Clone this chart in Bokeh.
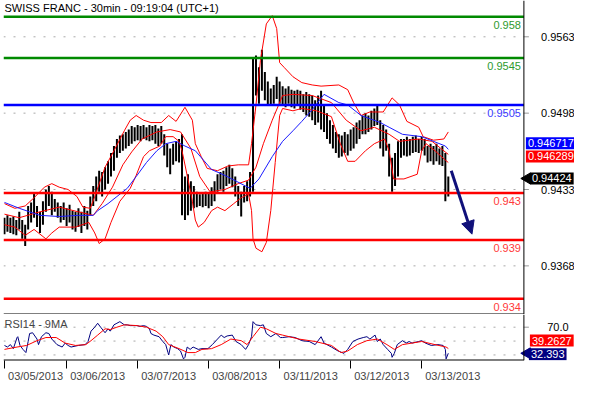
from bokeh.plotting import figure
from bokeh.layouts import column
from bokeh.models import (Range1d, FixedTicker, Span, Label, Arrow, NormalHead, ColumnDataSource)
from bokeh.embed import file_html
from bokeh.resources import INLINE
from bokeh.core.properties import value
import math

FONT = "Liberation Sans"
TITLE = "SWISS FRANC - 30min - 09:19:04 (UTC+1)"
RSI_TITLE = "RSI14 - 9MA"

# half-hour bar index (0 = first bar on 03/05), hourly bars
bar_t = list(range(0, 301, 2))
bar_hi = [0.9409,0.9411,0.9409,0.9410,0.9407,0.9414,0.9407,0.9403,0.9419,0.9422,
          0.9430,0.9419,0.9414,0.9423,0.9433,0.9436,0.9431,0.9425,0.9422,0.9419,
          0.9422,0.9417,0.9420,0.9415,0.9414,0.9417,0.9414,0.9419,0.9415,0.9427,
          0.9436,0.9444,0.9449,0.9448,0.9452,0.9457,0.9464,0.9470,0.9476,0.9479,
          0.9480,0.9482,0.9484,0.9487,0.9486,0.9488,0.9487,0.9488,0.9486,0.9488,
          0.9487,0.9488,0.9485,0.9487,0.9480,0.9472,0.9468,0.9472,0.9474,0.9476,
          0.9480,0.9444,0.9446,0.9440,0.9436,0.9431,0.9429,0.9430,0.9431,0.9430,
          0.9435,0.9440,0.9446,0.9448,0.9449,0.9452,0.9454,0.9451,0.9444,0.9436,
          0.9431,0.9436,0.9440,0.9448,0.9545,0.9547,0.9537,0.9552,0.9533,0.9525,
          0.9519,0.9522,0.9529,0.9525,0.9521,0.9519,0.9521,0.9518,0.9517,0.9518,
          0.9517,0.9514,0.9516,0.9514,0.9513,0.9509,0.9513,0.9517,0.9505,0.9498,
          0.9492,0.9488,0.9482,0.9480,0.9479,0.9482,0.9480,0.9484,0.9486,0.9490,
          0.9492,0.9496,0.9498,0.9496,0.9500,0.9502,0.9505,0.9492,0.9488,0.9484,
          0.9472,0.9460,0.9464,0.9474,0.9476,0.9476,0.9478,0.9476,0.9478,0.9479,
          0.9476,0.9478,0.9476,0.9470,0.9472,0.9470,0.9472,0.9468,0.9470,0.9464,
          0.9444]
bar_lo = [0.9395,0.9397,0.9396,0.9395,0.9394,0.9399,0.9391,0.9385,0.9399,0.9405,
          0.9409,0.9401,0.9396,0.9403,0.9414,0.9419,0.9411,0.9414,0.9409,0.9405,
          0.9407,0.9402,0.9405,0.9399,0.9397,0.9401,0.9396,0.9402,0.9399,0.9411,
          0.9419,0.9423,0.9431,0.9427,0.9433,0.9438,0.9444,0.9449,0.9460,0.9464,
          0.9466,0.9468,0.9470,0.9472,0.9474,0.9475,0.9474,0.9476,0.9475,0.9474,
          0.9475,0.9472,0.9470,0.9472,0.9462,0.9452,0.9446,0.9454,0.9457,0.9456,
          0.9411,0.9407,0.9411,0.9415,0.9417,0.9418,0.9419,0.9418,0.9419,0.9417,
          0.9419,0.9423,0.9431,0.9433,0.9431,0.9436,0.9438,0.9435,0.9427,0.9419,
          0.9410,0.9422,0.9423,0.9427,0.9431,0.9513,0.9506,0.9517,0.9509,0.9505,
          0.9505,0.9506,0.9510,0.9506,0.9505,0.9503,0.9506,0.9503,0.9502,0.9505,
          0.9501,0.9499,0.9496,0.9495,0.9492,0.9488,0.9490,0.9484,0.9482,0.9476,
          0.9472,0.9468,0.9464,0.9460,0.9461,0.9464,0.9462,0.9466,0.9468,0.9472,
          0.9476,0.9480,0.9480,0.9482,0.9484,0.9487,0.9488,0.9468,0.9461,0.9466,
          0.9444,0.9431,0.9436,0.9444,0.9460,0.9462,0.9461,0.9462,0.9464,0.9465,
          0.9464,0.9466,0.9462,0.9456,0.9457,0.9454,0.9457,0.9454,0.9453,0.9423,
          0.9427]

upper_t = [0,7,14,20,27,32,37,43,49,53,58,61,68,74,81,85,89,94,99,106,111,116,122,127,129,
           133,137,144,151,158,165,167,170,173,177,181,184,186,189,195,201,208,214,226,232,
           236,241,247,256,262,267,272,280,283,290,297,300]
upper = [0.9421,0.9417,0.9419,0.9426,0.9435,0.9438,0.9435,0.9433,0.9427,0.9418,0.9417,0.9427,
         0.9452,0.9466,0.9483,0.9492,0.9496,0.9492,0.9490,0.9490,0.9496,0.9491,0.9503,0.9492,
         0.9472,0.9461,0.9451,0.9449,0.9453,0.9454,0.9454,0.9472,0.9505,0.9543,0.9574,0.9581,
         0.9570,0.9541,0.9537,0.9529,0.9524,0.9522,0.9521,0.9522,0.9518,0.9507,0.9496,0.9499,
         0.9499,0.9511,0.9505,0.9491,0.9486,0.9478,0.9475,0.9476,0.9482]
lower_t = [0,7,14,20,28,32,37,48,57,61,64,68,72,78,85,89,94,98,105,109,114,118,120,124,127,
           129,131,135,140,144,149,155,160,165,167,168,170,174,177,180,183,186,188,195,201,211,
           221,227,232,237,244,250,257,260,263,270,279,282,285,291,298,300]
lower = [0.9403,0.9401,0.9394,0.9399,0.9391,0.9396,0.9401,0.9401,0.9405,0.9396,0.9387,0.9391,
         0.9405,0.9423,0.9434,0.9445,0.9461,0.9466,0.9470,0.9478,0.9478,0.9474,0.9466,0.9442,
         0.9423,0.9407,0.9401,0.9405,0.9415,0.9418,0.9415,0.9421,0.9426,0.9429,0.9415,0.9391,
         0.9383,0.9380,0.9388,0.9415,0.9456,0.9496,0.9502,0.9500,0.9502,0.9500,0.9495,0.9472,
         0.9457,0.9457,0.9466,0.9472,0.9476,0.9466,0.9442,0.9442,0.9446,0.9466,0.9472,0.9466,
         0.9458,0.9456]
mid_t = [0,10,24,37,50,60,66,73,80,86,93,103,112,119,126,132,139,149,158,165,170,175,181,188,
         195,208,221,231,241,250,260,267,280,289,300]
mid = [0.9412,0.9409,0.9414,0.9418,0.9414,0.9411,0.9421,0.9435,0.9454,0.9465,0.9476,0.9482,
       0.9484,0.9482,0.9468,0.9444,0.9431,0.9433,0.9438,0.9441,0.9452,0.9472,0.9492,0.9513,
       0.9514,0.9513,0.9507,0.9492,0.9483,0.9486,0.9480,0.9474,0.9476,0.9474,0.946289]
ma_t = [0,10,17,24,37,50,60,63,70,76,83,89,96,103,109,116,122,129,140,149,166,172,181,188,
        195,201,208,216,226,232,241,254,260,269,282,298,300]
ma = [0.9422,0.9417,0.9414,0.9411,0.9410,0.9411,0.9411,0.9415,0.9421,0.9427,0.9434,0.9444,
      0.9456,0.9466,0.9472,0.9474,0.9470,0.9466,0.9450,0.9445,0.9434,0.9442,0.9461,0.9474,
      0.9483,0.9491,0.9501,0.9514,0.9507,0.9505,0.9496,0.9490,0.9486,0.9480,0.9478,0.9470,
      0.946717]

levels = [0.958, 0.9545, 0.9505, 0.943, 0.939, 0.934]
level_labels = ["0.958", "0.9545", "0.9505", "0.943", "0.939", "0.934"]
level_colors = ["#008a00", "#008a00", "#0000ff", "#ff0000", "#ff0000", "#ff0000"]
level_text_colors = ["#2e9a2e", "#2e9a2e", "#3a3aff", "#ff3a3a", "#ff3a3a", "#ff3a3a"]
price_ticks = [0.9563, 0.9498, 0.9433, 0.9368]
last_close = 0.94424
ma_last = 0.946717
mid_last = 0.946289
arrow_start = (302, 0.9449)
arrow_end = (316, 0.9395)

rsi_t = [0,2,4,6,8.5,9,10.5,12.5,14.5,16,17,19,22,23,25,28,30,32,35.5,39,41,43,45,50,54.5,
         56.5,58.5,61,63,65,68,70,71.5,74,76,78,81,83,85,87.5,89.5,91.5,94,96,98,99,101,104.5,
         107,109,110.5,111,112.5,114.5,117,119,121,122,123.5,125.5,127.5,131,133.5,137.5,140.5,
         144,146.5,148.5,150.5,154,156.5,160,163,165,167,168,170,173,175,177,180,183.5,186.5,
         188,192.5,196.5,201,206,210,214,216,221,225.5,229.5,232,235.5,239,242.5,245,247,250.5,
         252,254,256,259,261.5,262,263.5,265.5,269,271.5,273.5,275.5,280,282,284.5,288.5,293,
         296.5,298,298.5,300]
rsi = [43.7,41.4,44.9,39.1,55.1,56.3,43.7,38.0,33.4,49.4,60.9,62.0,52.9,44.9,56.3,62.0,60.9,
       52.9,44.9,41.4,47.1,43.7,41.4,43.7,44.9,49.4,64.3,70.0,75.7,70.0,62.0,67.7,64.3,73.4,75.7,
       78.0,73.4,73.4,72.3,72.3,72.3,71.1,72.3,71.1,67.7,60.9,58.6,56.3,49.4,44.9,33.4,30.0,44.9,
       41.4,39.1,35.7,24.3,26.6,41.4,38.0,41.4,38.0,39.1,39.1,44.9,52.9,58.6,55.1,57.4,58.6,49.4,
       44.9,38.0,44.9,56.3,78.0,73.4,72.3,73.4,60.9,56.3,60.9,55.1,55.1,56.3,55.1,50.6,49.4,44.9,
       56.3,47.1,41.4,35.7,32.3,38.0,49.4,52.9,55.1,56.3,52.9,58.6,49.4,52.9,44.9,38.0,32.3,26.6,
       32.3,44.9,50.6,47.1,49.4,47.1,49.4,50.6,47.1,43.7,44.9,43.7,38.0,24.3,32.393]
rsima_t = [0,8.5,15,22,28,35,41,48,55,58.5,63,68,71.5,76,81,89.5,96,102.5,107,111,118,124,129,
           133.5,140,146.5,153,160,164,168,173,177,183.5,188,199,210,221,227.5,232,238.5,245,
           252,258.5,263.5,269,275.5,282,291,298.5,300]
rsima = [38.0,41.4,43.7,50.6,55.1,55.1,47.1,43.7,44.9,50.6,58.6,67.7,66.6,70.0,73.4,72.3,70.0,
         64.3,56.3,44.9,39.1,33.4,33.4,38.0,39.1,44.9,52.9,50.6,44.9,56.3,70.0,67.7,60.9,58.6,
         52.9,49.4,43.7,33.4,35.7,44.9,50.6,52.9,44.9,38.0,44.9,47.1,49.4,44.9,41.4,39.2627]
rsi_last = 32.393
rsima_last = 39.2627
rsi_grid = [30, 50, 70]
rsi_ticks = [70]

day_ticks = [0, 42, 90, 138, 186, 234, 282]
day_labels = ["03/05/2013", "03/06/2013", "03/07/2013", "03/08/2013",
              "03/11/2013", "03/12/2013", "03/13/2013"]

# ---------------- layout constants ----------------
W = 574
XMIN, XAX, XEND = -0.66, 351.1, 385.3   # frame left, price-axis position, canvas right
PMIN, PMAX = 0.93266, 0.95939
RMIN, RMAX = 22.0, 88.3
LABEL_SHIFT = 21  # date label centre sits right of its day tick
GRID = "#a8a8a8"


def style_common(p):
    p.outline_line_color = None
    p.xgrid.visible = False
    p.ygrid.visible = False
    p.background_fill_color = "white"
    p.border_fill_color = "white"


def price_axis(p, ticks, fmt, grid_ticks):
    # dotted grid up to the axis, gray tick marks, centred tick labels
    p.segment(x0=[XMIN] * len(grid_ticks), x1=[XAX] * len(grid_ticks), y0=grid_ticks,
              y1=grid_ticks, line_color=GRID, line_dash="2 8", line_width=1)
    p.ray(x=[XAX] * len(ticks), y=ticks, length=5, length_units="screen", angle=0,
          line_color="#999999", line_width=1)
    p.text(x=[XAX] * len(ticks), y=ticks, text=[fmt.format(t) for t in ticks],
           x_offset=34, text_align="center", text_baseline="middle",
           text_font=value(FONT), text_font_size="11px", text_color="black")
    p.add_layout(Span(location=XAX, dimension="height", line_color="black", line_width=1))


def tag(p, y, text, bg, xoff=2, yoff=0, point=False):
    if point:
        p.scatter(x=[XAX + 2.2], y=[y], marker="triangle", angle=math.pi / 2, size=11,
                  fill_color=bg, line_color=bg)
    p.add_layout(Label(x=XAX, y=y, x_offset=xoff, y_offset=yoff, text=text,
                       text_color="white", text_font=FONT, text_font_size="11px",
                       text_baseline="middle", background_fill_color=bg, padding=2))


# ---------------- price panel ----------------
p1 = figure(width=W, height=314, x_range=Range1d(XMIN, XEND), y_range=Range1d(PMIN, PMAX),
            output_backend="svg", toolbar_location=None, x_axis_location=None,
            y_axis_location=None, min_border_left=3, min_border_right=0,
            min_border_top=0, min_border_bottom=0)
style_common(p1)
price_axis(p1, price_ticks, "{:.4f}", price_ticks)

bars = ColumnDataSource(dict(t=bar_t, hi=bar_hi, lo=bar_lo))
p1.segment(x0="t", y0="lo", x1="t", y1="hi", source=bars, line_color="black", line_width=2)
p1.line(upper_t, upper, line_color="#ff0000", line_width=1)
p1.line(lower_t, lower, line_color="#ff0000", line_width=1)
p1.line(mid_t, mid, line_color="#ff0000", line_width=1)
p1.line(ma_t, ma, line_color="#1a1aff", line_width=1)

p1.segment(x0=[XMIN] * len(levels), x1=[XAX] * len(levels), y0=levels, y1=levels,
           line_color=level_colors, line_width=2.5)
p1.segment(x0=[XMIN], x1=[XAX], y0=[PMIN], y1=[PMIN], line_color="black", line_width=2)

lv_src = ColumnDataSource(dict(x=[XAX] * len(levels), y=levels, text=level_labels,
                               color=level_text_colors))
p1.text(x="x", y="y", text="text", source=lv_src, text_color="color", text_align="right",
        text_baseline="middle", x_offset=-3, y_offset=8, text_font=value(FONT),
        text_font_size="11px")

p1.add_layout(Label(x=XMIN, y=PMAX, text=TITLE, text_font=FONT, text_font_size="11px",
                    text_baseline="top", x_offset=1, y_offset=-1, text_color="black"))

p1.add_layout(Arrow(x_start=arrow_start[0], y_start=arrow_start[1], x_end=arrow_end[0],
                    y_end=arrow_end[1], line_color="#10107a", line_width=3,
                    end=NormalHead(size=13, fill_color="#10107a", line_color="#10107a")))

tag(p1, ma_last, "0.946717", "#0000ff", xoff=2, yoff=6)
tag(p1, mid_last, "0.946289", "#ff0000", xoff=2, yoff=-2)
tag(p1, last_close, "0.94424", "black", xoff=6, point=True)

# ---------------- RSI panel ----------------
p2 = figure(width=W, height=70, x_range=p1.x_range, y_range=Range1d(RMIN, RMAX),
            output_backend="svg", toolbar_location=None, y_axis_location=None,
            x_axis_location="below", min_border_left=3, min_border_right=0,
            min_border_top=0, min_border_bottom=0)
style_common(p2)
price_axis(p2, rsi_ticks, "{:.1f}", rsi_grid)

xa = p2.xaxis[0]
centres = [d + LABEL_SHIFT for d in day_ticks]
xa.ticker = FixedTicker(ticks=centres, minor_ticks=day_ticks)
xa.major_label_overrides = {c: lab for c, lab in zip(centres, day_labels)}
xa.major_tick_out = 0
xa.major_tick_in = 0
xa.minor_tick_out = 8
xa.minor_tick_in = 0
xa.minor_tick_line_color = "black"
xa.axis_line_color = None
xa.major_label_standoff = 1
xa.major_label_text_font = FONT
xa.major_label_text_font_size = "11px"

p2.segment(x0=[XMIN], x1=[XAX], y0=[RMIN], y1=[RMIN], line_color="black", line_width=2)
p2.line(rsi_t, rsi, line_color="#000080", line_width=1)
p2.line(rsima_t, rsima, line_color="#ff0000", line_width=1)
p2.add_layout(Label(x=XMIN, y=RMAX, text=RSI_TITLE, text_font=FONT, text_font_size="11px",
                    text_baseline="top", x_offset=1, y_offset=-3))
tag(p2, rsima_last, "39.2627", "#ff0000", xoff=6, yoff=8)
tag(p2, rsi_last, "32.393", "#000080", xoff=5, yoff=-1, point=True)

layout = column(p1, p2, spacing=0)
open("out.html", "w").write(file_html(layout, INLINE))
